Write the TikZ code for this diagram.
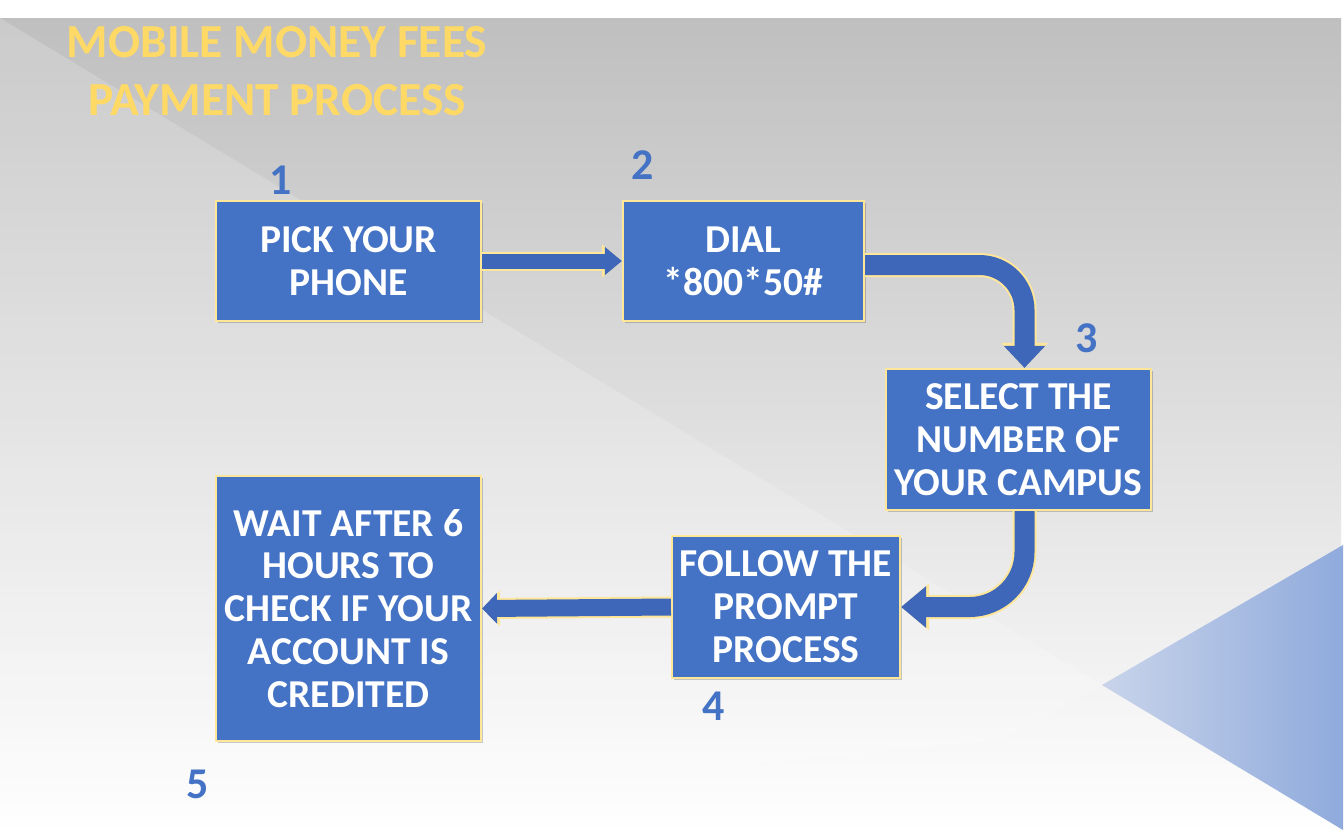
\documentclass[tikz,border=0pt]{standalone}
\usepackage{fontspec}
\setmainfont{Carlito}
\usetikzlibrary{arrows.meta, positioning, shadows}

\definecolor{boxblue}{HTML}{4472C4}
\definecolor{arrowblue}{HTML}{3E67B9}
\definecolor{edgeyellow}{HTML}{FFE699}
\definecolor{titleyellow}{HTML}{FFD966}
\definecolor{triblueA}{HTML}{C9D4EA}
\definecolor{triblueB}{HTML}{8FAADC}

\tikzset{
    procbox/.style={draw=edgeyellow, line width=1.2pt, fill=boxblue, text=white,
        font=\bfseries\fontsize{22.5}{24.4}\selectfont, align=center, inner sep=0pt,
        drop shadow={shadow xshift=1.2pt, shadow yshift=-1.2pt, opacity=0.2, fill=black}},
    stepnum/.style={text=boxblue, font=\bfseries\fontsize{25}{25}\selectfont},
    glowline/.style={draw=edgeyellow, line width=#1},
    flowline/.style={draw=arrowblue, line width=#1},
}

\begin{document}
\begin{tikzpicture}
    % --- background ---
    \useasboundingbox (0,0) rectangle (26.88,-16.7);
    \fill[white] (0,0) rectangle (26.88,-16.7);
    \shade[top color=gray!50, bottom color=white] (0,-0.36) rectangle (26.82,-16.7);
    \fill[white, opacity=0.18] (0,-0.36) -- (22.04,-13.7) -- (20,-14.8) -- (0,-16.7) -- cycle;
    \shade[left color=triblueA, right color=triblueB] (26.86,-10.9) -- (22.04,-13.7) -- (26.86,-16.6) -- cycle;

    % --- title ---
    \node[text=titleyellow, font=\bfseries\fontsize{27}{33}\selectfont, align=center] (title)
        at (5.54,-1.42) {MOBILE MONEY FEES\\PAYMENT PROCESS};

    % --- steps ---
    \node[procbox, minimum width=5.3cm, minimum height=2.4cm] (pick) at (6.97,-5.22) {PICK YOUR\\PHONE};
    \node[procbox, minimum width=4.82cm, minimum height=2.4cm] (dial) at (14.87,-5.22) {DIAL\\*800*50\#};
    \node[procbox, minimum width=5.3cm, minimum height=2.82cm] (campus) at (20.37,-8.79) {SELECT THE\\NUMBER OF\\YOUR CAMPUS};
    \node[procbox, minimum width=4.56cm, minimum height=2.84cm] (prompt) at (15.72,-12.14) {FOLLOW THE\\PROMPT\\PROCESS};
    \node[procbox, minimum width=5.3cm, minimum height=5.3cm] (wait) at (6.97,-12.17) {WAIT AFTER 6\\HOURS TO\\CHECK IF YOUR\\ACCOUNT IS\\CREDITED};

    % --- step numbers ---
    \node[stepnum] (n1) at (5.62,-3.6) {1};
    \node[stepnum] (n2) at (12.86,-3.3) {2};
    \node[stepnum] (n3) at (21.74,-6.76) {3};
    \node[stepnum] (n4) at (14.28,-14.12) {4};
    \node[stepnum] (n5) at (3.96,-15.68) {5};

    % --- arrows ---
    % 1 -> 2
    \draw[glowline=0.38cm, -{Triangle[width=0.64cm, length=0.4cm]}] (pick.east) -- (dial.west);
    \draw[flowline=0.3cm, -{Triangle[width=0.54cm, length=0.34cm]}] (pick.east) -- (dial.west);
    % 2 -> 3
    \draw[glowline=0.48cm, rounded corners=0.9cm, -{Triangle[width=0.9cm, length=0.5cm]}]
        ([yshift=-0.08cm]dial.east) -| ([xshift=0.12cm]campus.north);
    \draw[flowline=0.4cm, rounded corners=0.9cm, -{Triangle[width=0.8cm, length=0.44cm]}]
        ([yshift=-0.08cm]dial.east) -| ([xshift=0.12cm]campus.north);
    % 3 -> 4
    \draw[glowline=0.48cm, rounded corners=1.1cm, -{Triangle[width=0.9cm, length=0.56cm]}]
        ([xshift=0.12cm]campus.south) |- (prompt.east);
    \draw[flowline=0.4cm, rounded corners=1.1cm, -{Triangle[width=0.8cm, length=0.5cm]}]
        ([xshift=0.12cm]campus.south) |- (prompt.east);
    % 4 -> 5
    \draw[glowline=0.42cm, -{Triangle[width=0.7cm, length=0.36cm]}] (prompt.west) -- (wait.east);
    \draw[flowline=0.34cm, -{Triangle[width=0.6cm, length=0.3cm]}] (prompt.west) -- (wait.east);
\end{tikzpicture}
\end{document}
